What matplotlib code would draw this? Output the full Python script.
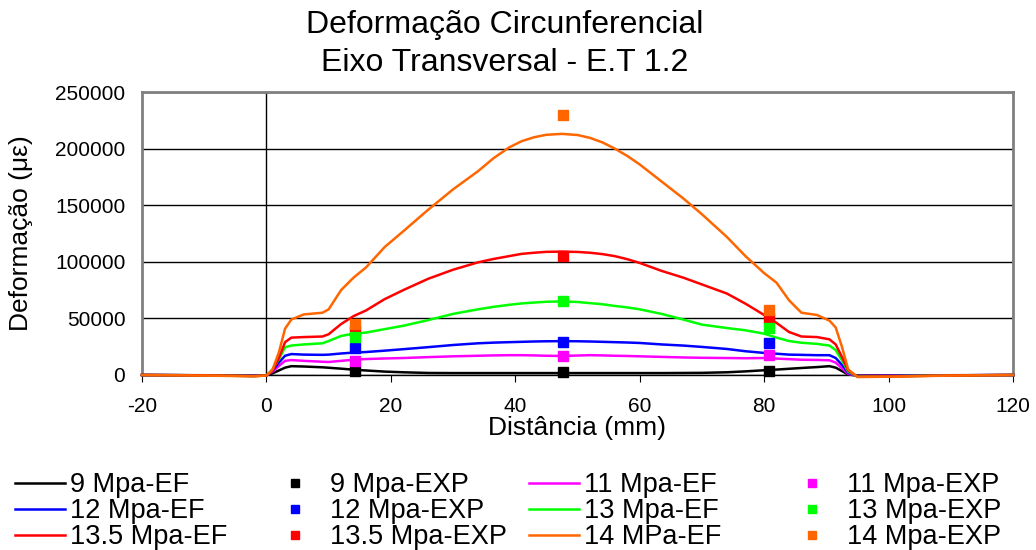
import matplotlib
matplotlib.use("Agg")
import matplotlib.pyplot as plt
from matplotlib.lines import Line2D

plt.rcParams["font.family"] = ["Liberation Sans", "DejaVu Sans"]
plt.rcParams["axes.unicode_minus"] = False

# =========================
# Data
# =========================
x_ef = [-20, -10, -2, 0, 1, 2, 3, 4, 6, 9, 10, 12, 14, 16, 19, 22, 26, 30, 34, 36.5, 39, 41,
        43, 45, 47.5, 50, 52, 54, 56, 58, 60, 63.5, 67, 70, 74, 77, 80, 82, 84, 86, 88.5,
        90.5, 91.5, 92.5, 93.5, 95, 100, 110, 120]

ef_9 = [0, -200, -500, -200, 1500, 4000, 6500, 7800, 7500, 6800, 6400, 5600, 4700, 4000,
        3000, 2400, 1800, 1700, 1700, 1700, 1700, 1700, 1700, 1700, 1700, 1700, 1700, 1700,
        1700, 1700, 1700, 1700, 1800, 1900, 2400, 3200, 4200, 4800, 5500, 6200, 7000, 7800,
        6500, 3500, 500, -500, -400, -200, 0]
ef_11 = [0, -300, -700, -300, 3000, 8000, 12500, 13200, 12500, 11700, 11500, 12500, 13500,
         14100, 14600, 15000, 15800, 16500, 17000, 17300, 17500, 17500, 17300, 17000, 16800,
         17200, 17500, 17300, 17000, 16800, 16500, 16000, 15500, 15200, 15000, 14800, 15000,
         14500, 14000, 13500, 13300, 13000, 11000, 6000, 1000, -800, -700, -300, 0]
ef_12 = [0, -300, -800, -300, 4000, 11000, 17000, 18500, 18000, 17800, 18000, 19000, 19800,
         20300, 21500, 22800, 24600, 26500, 28000, 28600, 29000, 29300, 29600, 29800, 29900,
         29800, 29600, 29300, 29000, 28700, 28300, 27000, 26000, 24800, 23000, 21000, 19500,
         18800, 18000, 17800, 17500, 17500, 15000, 9000, 2000, -1000, -900, -300, 0]
ef_13 = [0, -300, -900, -400, 5000, 14000, 24500, 26000, 27000, 28000, 30000, 34500, 36500,
         37500, 40500, 43500, 48500, 54000, 58000, 60200, 62000, 63200, 64000, 64700, 65000,
         64500, 63500, 62500, 61000, 59700, 58000, 54000, 49000, 44500, 41500, 39500, 36500,
         33000, 30000, 28500, 27500, 26000, 22000, 13000, 3000, -1300, -1100, -400, 0]
ef_135 = [0, -300, -900, -400, 4000, 15000, 29000, 33000, 33500, 34000, 36000, 45000, 52000,
          57000, 67000, 75000, 85000, 93000, 99500, 102500, 105000, 107000, 108000, 108800,
          109000, 108700, 108000, 106800, 105000, 102300, 99000, 92000, 86000, 80000, 72000,
          63000, 53000, 46000, 38000, 34000, 33500, 31500, 27000, 16000, 4000, -1500, -1300,
          -400, 0]
ef_14 = [0, -500, -1200, -500, 5000, 20000, 41000, 49000, 53500, 55000, 58000, 75000, 86000,
         95000, 113000, 127000, 146000, 164000, 180000, 191500, 201000, 206500, 210000, 212200,
         213000, 212000, 209500, 205500, 200000, 193500, 186000, 171000, 156000, 142000,
         122000, 105000, 90000, 81500, 66000, 55000, 53000, 48000, 42000, 25000, 5000, -1800,
         -1500, -500, 0]

x_exp = [14.3, 47.6, 80.8]
exp_9 = [3500, 2600, 3500]
exp_11 = [12300, 16700, 17600]
exp_12 = [23800, 29000, 28200]
exp_13 = [33500, 65100, 41400]
exp_135 = [38700, 104800, 50200]
exp_14 = [45000, 229800, 57200]

c9, c11, c12, c13, c135, c14 = "#000000", "#FF00FF", "#0000FF", "#00FF00", "#FF0000", "#FF6600"

# =========================
# Figure
# =========================
fig = plt.figure(figsize=(10.36, 5.5), dpi=100)
ax = fig.add_axes([142 / 1036, 1 - 375 / 550, (1013 - 142) / 1036, (375 - 92) / 550])

lw = 1.8
for ys, c in [(ef_9, c9), (ef_11, c11), (ef_12, c12), (ef_13, c13), (ef_135, c135), (ef_14, c14)]:
    ax.plot(x_ef, ys, color=c, lw=lw, clip_on=False, zorder=3)

ms = 7.5
for ys, c in [(exp_9, c9), (exp_12, c12), (exp_135, c135), (exp_11, c11), (exp_13, c13), (exp_14, c14)]:
    ax.plot(x_exp, ys, ls="none", marker="s", ms=ms, color=c, mec=c, zorder=4, clip_on=False)

ax.set_xlim(-20, 120)
ax.set_ylim(0, 250000)
ax.set_xticks(range(-20, 121, 20))
ax.set_yticks(range(0, 250001, 50000))
ax.grid(axis="y", color="black", lw=1.0)
ax.set_axisbelow(True)
ax.axvline(0, color="black", lw=1.0, zorder=2)

for s in ["top", "left", "right"]:
    ax.spines[s].set_color("#808080")
    ax.spines[s].set_linewidth(2)
ax.spines["bottom"].set_color("black")
ax.spines["bottom"].set_linewidth(1)

ax.tick_params(axis="y", length=0, pad=12, labelsize=15)
ax.tick_params(axis="x", length=5, direction="out", pad=11, labelsize=15)

ax.set_xlabel("Distância (mm)", fontsize=19, labelpad=0)
ax.set_ylabel("Deformação (με)", fontsize=19, labelpad=16)

fig.text(505 / 1036, 1 - 44 / 550, "Deformação Circunferencial\nEixo Transversal - E.T 1.2",
         ha="center", va="center", fontsize=23, linespacing=1.35)

# =========================
# Legend (four columns)
# =========================
def line_h(c):
    return Line2D([], [], color=c, lw=lw)

def mark_h(c):
    return Line2D([], [], ls="none", marker="s", ms=6, color=c)

cols = [
    ([line_h(c9), line_h(c12), line_h(c135)], ["9 Mpa-EF", "12 Mpa-EF", "13.5 Mpa-EF"], 15, 0.18),
    ([mark_h(c9), mark_h(c12), mark_h(c135)], ["9 Mpa-EXP", "12 Mpa-EXP", "13.5 Mpa-EXP"], 270, 0.37),
    ([line_h(c11), line_h(c13), line_h(c14)], ["11 Mpa-EF", "13 Mpa-EF", "14 MPa-EF"], 529, 0.18),
    ([mark_h(c11), mark_h(c13), mark_h(c14)], ["11 Mpa-EXP", "13 Mpa-EXP", "14 Mpa-EXP"], 787, 0.37),
]
for hs, labs, px, tp in cols:
    fig.legend(hs, labs, loc="upper left", bbox_to_anchor=(px / 1036, 1 - 472 / 550),
               frameon=False, fontsize=19.5, handlelength=1.85, handletextpad=tp,
               labelspacing=0.0, borderpad=0, borderaxespad=0)

fig.savefig("out.png", dpi=100)
